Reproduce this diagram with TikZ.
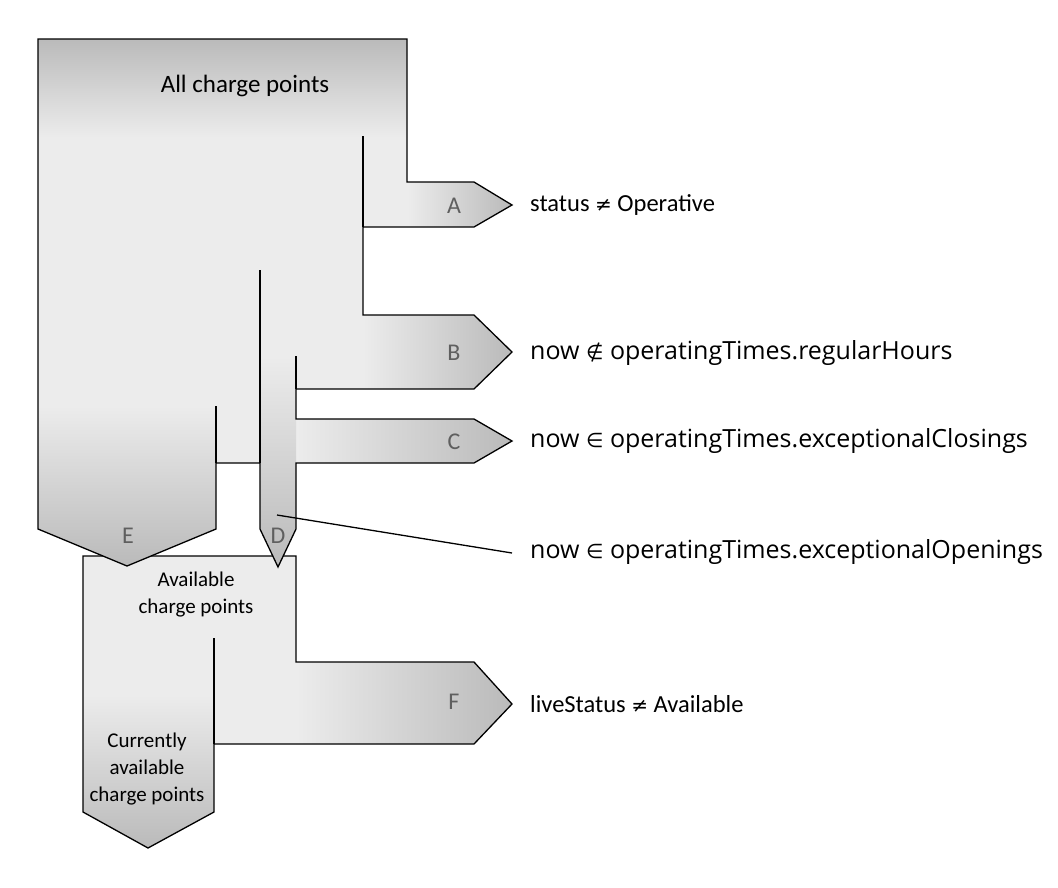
\documentclass[tikz,border=0pt]{standalone}
\usepackage{fontspec}
\setmainfont{Carlito}
\newfontfamily\osans{Open Sans}
\newfontfamily\dsym{DejaVu Sans}
\definecolor{lite}{RGB}{236,236,236}
\definecolor{dark}{RGB}{186,186,186}
\definecolor{lettergray}{RGB}{95,95,95}
\tikzset{
  outline/.style={draw=black, line width=1.3pt, line join=miter},
  hgrad/.style={left color=lite, right color=dark},
  vgrad/.style={top color=lite, bottom color=dark},
  letter/.style={text=lettergray, font=\fontsize{24}{28}\selectfont, inner sep=0pt},
  cond/.style={anchor=west, inner sep=0pt, font=\fontsize{24.5}{29}\selectfont},
  condo/.style={anchor=west, inner sep=0pt, font=\osans\fontsize{25}{30}\selectfont},
  boxtext/.style={align=center, inner sep=0pt, font=\fontsize{21}{27}\selectfont},
}
\begin{document}
\begin{tikzpicture}[x=1pt,y=-1pt]
\useasboundingbox (0,0) rectangle (1058,887);
% ---------- lower box: available charge points ----------
\fill[lite] (83,556) -- (296,556) -- (296,662) -- (474,662) -- (512,704) -- (474,744)
  -- (214,744) -- (214,812) -- (148,848) -- (83,812) -- cycle;
\shade[hgrad] (296,662) -- (474,662) -- (512,704) -- (474,744) -- (296,744) -- cycle;
\shade[vgrad] (83,695) -- (214,695) -- (214,812) -- (148,848) -- (83,812) -- cycle;
\draw[outline] (83,556) -- (296,556) -- (296,662) -- (474,662) -- (512,704) -- (474,744)
  -- (214,744) -- (214,812) -- (148,848) -- (83,812) -- cycle;
\draw[outline] (214,638) -- (214,744);
% ---------- main shape: all charge points ----------
\fill[lite] (38,39) -- (407,39) -- (407,182) -- (474,182) -- (512,205) -- (474,227)
  -- (363,227) -- (363,315) -- (474,315) -- (512,352) -- (474,389) -- (296,389)
  -- (296,419) -- (474,419) -- (512,441) -- (474,463) -- (296,463) -- (296,529)
  -- (278,567) -- (260,529) -- (260,463) -- (216,463) -- (216,529) -- (127,566)
  -- (38,529) -- cycle;
\shade[top color=dark, bottom color=lite] (38,39) rectangle (407,137);
\shade[hgrad] (407,182) -- (474,182) -- (512,205) -- (474,227) -- (407,227) -- cycle;
\shade[hgrad] (363,315) -- (474,315) -- (512,352) -- (474,389) -- (363,389) -- cycle;
\shade[hgrad] (296,419) -- (474,419) -- (512,441) -- (474,463) -- (296,463) -- cycle;
\shade[vgrad] (38,406) -- (216,406) -- (216,529) -- (127,566) -- (38,529) -- cycle;
\shade[vgrad] (260,356) -- (296,356) -- (296,529) -- (278,567) -- (260,529) -- cycle;
\draw[outline] (38,39) -- (407,39) -- (407,182) -- (474,182) -- (512,205) -- (474,227)
  -- (363,227) -- (363,315) -- (474,315) -- (512,352) -- (474,389) -- (296,389)
  -- (296,419) -- (474,419) -- (512,441) -- (474,463) -- (296,463) -- (296,529)
  -- (278,567) -- (260,529) -- (260,463) -- (216,463) -- (216,529) -- (127,566)
  -- (38,529) -- cycle;
\draw[outline] (363,136) -- (363,227);
\draw[outline] (260,270) -- (260,463);
\draw[outline] (296,356) -- (296,389);
\draw[outline] (216,406) -- (216,463);
% ---------- texts ----------
\node[font=\fontsize{25}{30}\selectfont, inner sep=0pt] (all) at (245,86) {All charge points};
\node[boxtext] (avail) at (196,595) {Available\\charge points};
\node[boxtext] (curr) at (147,769) {Currently\\available\\charge points};
\node[letter] (la) at (454,206) {A};
\node[letter] (lb) at (454,353) {B};
\node[letter] (lc) at (454,442) {C};
\node[letter] (ld) at (278,536) {D};
\node[letter] (le) at (128,536) {E};
\node[letter] (lf) at (454,702) {F};
\node[cond] (ca) at (530,205) {status {\dsym\fontsize{20}{24}\selectfont ≠} Operative};
\node[condo] (cb) at (530,353) {now {\dsym\fontsize{20}{24}\selectfont ∉} operatingTimes.regularHours};
\node[condo] (cc) at (530,441) {now {\dsym\fontsize{20}{24}\selectfont ∈} operatingTimes.exceptionalClosings};
\node[condo] (cd) at (530,552) {now {\dsym\fontsize{20}{24}\selectfont ∈} operatingTimes.exceptionalOpenings};
\node[cond] (cf) at (530,704) {liveStatus {\dsym\fontsize{20}{24}\selectfont ≠} Available};
\coordinate (dpt) at (277,515);
\coordinate (dend) at (512,553);
\draw[line width=1.3pt] (dpt) -- (dend);
\end{tikzpicture}
\end{document}
